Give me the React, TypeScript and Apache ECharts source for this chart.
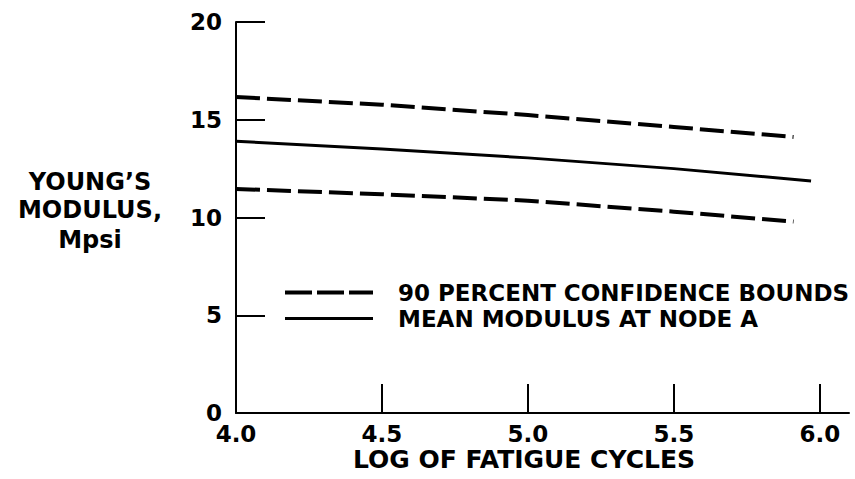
import React, { useEffect, useRef } from "react";
import * as echarts from "echarts";

const boundsName = "90 PERCENT CONFIDENCE BOUNDS";
const meanName = "MEAN MODULUS AT NODE A";

const upperBound: [number, number][] = [
  [4.0, 16.16],
  [4.5, 15.77],
  [5.0, 15.24],
  [5.5, 14.63],
  [5.91, 14.12],
];
const meanModulus: [number, number][] = [
  [4.0, 13.9],
  [4.5, 13.5],
  [5.0, 13.05],
  [5.5, 12.5],
  [5.97, 11.87],
];
const lowerBound: [number, number][] = [
  [4.0, 11.46],
  [4.5, 11.19],
  [5.0, 10.86],
  [5.5, 10.3],
  [5.91, 9.79],
];

const yTitleLines = ["YOUNG\u2019S", "MODULUS,", "Mpsi"];
const xTitle = "LOG OF FATIGUE CYCLES";

const FONT = "'DejaVu Sans', sans-serif";

export default function App() {
  const ref = useRef<HTMLDivElement>(null);
  useEffect(() => {
    if (!ref.current) return;
    const chart = echarts.init(ref.current, undefined, { renderer: "svg" });
    const axisLine = { show: true, lineStyle: { color: "#000", width: 2 } };
    const axisTick = { show: true, inside: true, length: 29, lineStyle: { color: "#000", width: 2 } };
    const labelStyle = { color: "#000", fontFamily: FONT, fontWeight: "bold" as const, fontSize: 23 };
    chart.setOption({
      animation: false,
      backgroundColor: "#fff",
      grid: { left: 236, right: 6, top: 22, bottom: 66, containLabel: false },
      xAxis: {
        type: "value",
        min: 4,
        max: 6.1,
        interval: 0.5,
        axisLine,
        axisTick,
        splitLine: { show: false },
        axisLabel: {
          ...labelStyle,
          lineHeight: 20,
          margin: 11,
          showMaxLabel: false,
          formatter: (v: number) => v.toFixed(1),
        },
      },
      yAxis: {
        type: "value",
        min: 0,
        max: 20,
        interval: 5,
        axisLine,
        axisTick,
        splitLine: { show: false },
        axisLabel: { ...labelStyle, margin: 14 },
      },
      legend: {
        orient: "vertical",
        left: 278,
        top: 276,
        itemWidth: 88,
        itemHeight: 14,
        itemGap: 3,
        itemStyle: { opacity: 0 },
        data: [
          { name: boundsName, lineStyle: { color: "#000", width: 4, type: [27, 5] } },
          { name: meanName, lineStyle: { color: "#000", width: 3, type: "solid" } },
        ],
        textStyle: { ...labelStyle, padding: [0, 0, 0, 20] },
      },
      series: [
        {
          name: boundsName,
          type: "line",
          data: upperBound,
          symbol: "none",
          lineStyle: { color: "#000", width: 4, type: [24, 7] },
        },
        {
          name: boundsName,
          type: "line",
          data: lowerBound,
          symbol: "none",
          lineStyle: { color: "#000", width: 4, type: [24, 7] },
        },
        {
          name: meanName,
          type: "line",
          data: meanModulus,
          symbol: "none",
          lineStyle: { color: "#000", width: 3 },
        },
      ],
      graphic: [
        ...yTitleLines.map((t, i) => ({
          type: "text",
          x: 90,
          y: [182, 210, 240][i],
          style: {
            text: t,
            fill: "#000",
            font: `bold 24px ${FONT}`,
            textAlign: "center",
            textVerticalAlign: "middle",
          },
        })),
        {
          type: "text",
          x: 524,
          y: 459,
          style: {
            text: xTitle,
            fill: "#000",
            font: `bold 25px ${FONT}`,
            lineHeight: 20,
            textAlign: "center",
            textVerticalAlign: "middle",
          },
        },
      ],
    });
    return () => chart.dispose();
  }, []);
  return (
    <div
      ref={ref}
      style={{ position: "fixed", left: 0, top: 0, width: 855, height: 479 }}
    />
  );
}
